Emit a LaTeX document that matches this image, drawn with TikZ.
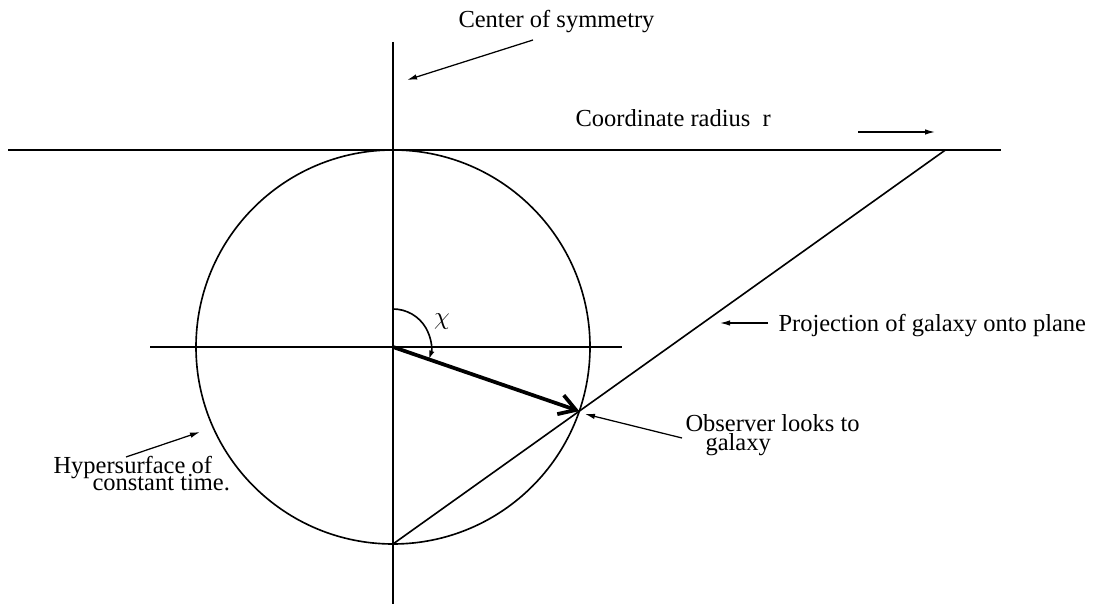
\documentclass[tikz,border=0pt]{standalone}
\usepackage{fontspec}
\setmainfont{Liberation Serif}
\usetikzlibrary{arrows.meta,calc,positioning}

\begin{document}
\begin{tikzpicture}[x=0.4pt, y=-0.4pt, font=\fontsize{9.8}{11}\selectfont,
    thinline/.style={line width=0.65pt},
    pointer/.style={line width=0.5pt, -{Latex[length=4pt,width=2.2pt]}},
    lbl/.style={anchor=base west, inner sep=0pt}]
    \useasboundingbox (0,0) rectangle (1098,604);

    % Sphere and its centre
    \coordinate (O) at (393,347);
    \coordinate (S) at (393,544);
    \coordinate (P) at ($(O)+(19:197)$);
    \draw[thinline] (O) circle (197);

    % Axes and tangent plane
    \draw[thinline] (393,42) -- (393,604);
    \draw[thinline] (150,347) -- (622,347);
    \coordinate (A) at (8,150);
    \coordinate (B) at (1001,150);
    \draw[thinline] (A) -- (B);

    % Projection from the pole
    \coordinate (Q) at (intersection of S--P and A--B);
    \draw[thinline] (S) -- (Q);

    % Observer direction and angle
    \draw[line width=1.5pt, -{Straight Barb[length=6.5pt,width=8pt]}] (O) -- (P);
    \draw[thinline, -{Latex[length=3.5pt,width=2.2pt]}] ($(O)+(-90:38)$) arc[start angle=-90, end angle=19, radius=38];
    \node (chi) at (442,322) {$\chi$};

    % Labels
    \node[lbl] (cos) at (458,28) {Center of symmetry};
    \coordinate (cosTail) at (533,40);
    \coordinate (cosTip) at (407,80);
    \draw[pointer] (cosTail) -- (cosTip);

    \node[lbl] (rad) at (575,127) {Coordinate radius\ \ r};
    \coordinate (radTail) at (858,132);
    \coordinate (radTip) at (935,132);
    \draw[pointer] (radTail) -- (radTip);

    \node[lbl] (proj) at (778,332) {Projection of galaxy onto plane};
    \coordinate (projTail) at (768,323);
    \coordinate (projTip) at (720,323);
    \draw[pointer] (projTail) -- (projTip);

    \node[lbl] (obs) at (685,432) {Observer looks to};
    \node[lbl] (obsB) at (705,451) {galaxy};
    \coordinate (obsTail) at (682,438);
    \coordinate (obsTip) at (585,414);
    \draw[pointer] (obsTail) -- (obsTip);

    \node[lbl] (hyp) at (53,474) {Hypersurface of};
    \node[lbl] (hypB) at (92,491) {constant time.};
    \coordinate (hypTail) at (126,457);
    \coordinate (hypTip) at (200,432);
    \draw[pointer] (hypTail) -- (hypTip);
\end{tikzpicture}
\end{document}
